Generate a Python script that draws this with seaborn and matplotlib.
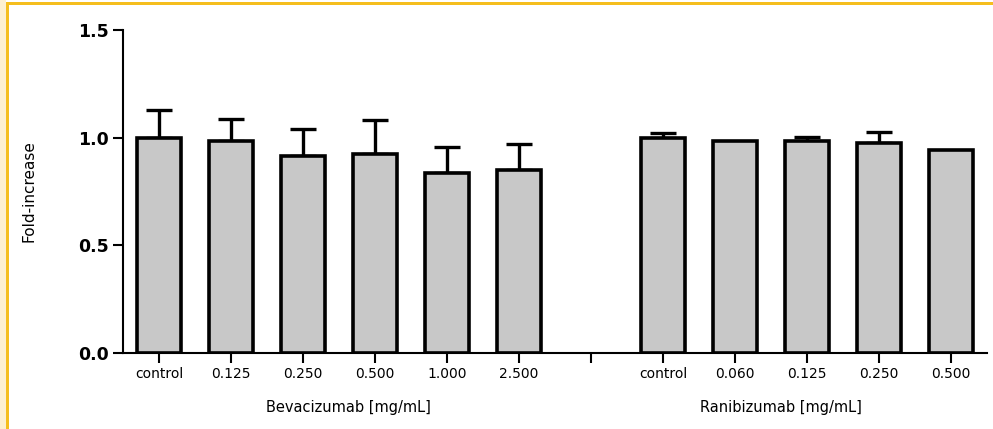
import numpy as np
import pandas as pd
import seaborn as sns
import matplotlib.pyplot as plt
from matplotlib.patches import Rectangle

# Werte
bev_labels = ["control", "0.125", "0.250", "0.500", "1.000", "2.500"]
bev_means = [1.00, 0.985, 0.913, 0.925, 0.836, 0.848]
bev_sd = [0.127, 0.102, 0.127, 0.158, 0.121, 0.123]

ran_labels = ["control", "0.060", "0.125", "0.250", "0.500"]
ran_means = [1.00, 0.983, 0.983, 0.975, 0.941]
ran_sd = [0.021, 0.0, 0.020, 0.051, 0.0]

# Daten zusammenbauen (eindeutige Schluessel, Luecke zwischen den Gruppen)
keys_bev = ["B " + l for l in bev_labels]
keys_ran = ["R " + l for l in ran_labels]
order = keys_bev + ["gap"] + keys_ran
df = pd.DataFrame({
    "key": keys_bev + keys_ran,
    "mean": bev_means + ran_means,
    "sd": bev_sd + ran_sd,
})

sns.set_theme(style="ticks")
plt.rcParams["font.family"] = ["DejaVu Sans"]
plt.rcParams["text.color"] = "black"
plt.rcParams["axes.labelcolor"] = "black"
plt.rcParams["xtick.color"] = "black"
plt.rcParams["ytick.color"] = "black"

fig = plt.figure(figsize=(9.93, 4.29), dpi=100)
ax = fig.add_axes([0.1239, 0.177, 0.870, 0.753])

sns.barplot(data=df, x="key", y="mean", order=order, color="#c8c8c8",
            saturation=1, width=0.6, edgecolor="black", linewidth=2.6,
            errorbar=None, ax=ax, zorder=3)

# Fehlerbalken nur nach oben (wie GraphPad)
pos = [order.index(k) for k in df["key"]]
has_err = df["sd"] > 0
ax.errorbar(np.array(pos)[has_err], df["mean"][has_err],
            yerr=[np.zeros(has_err.sum()), df["sd"][has_err]],
            fmt="none", ecolor="black", elinewidth=2.4, capsize=9.5,
            capthick=2.4, zorder=2)

ax.set_xlim(-0.5, 11.5)
ax.set_ylim(0, 1.5)
ax.set_yticks([0, 0.5, 1.0, 1.5])
ax.set_yticklabels(["0.0", "0.5", "1.0", "1.5"], fontsize=12.5,
                   fontweight="bold")
ax.set_xticks(range(len(order)))
ax.set_xticklabels(bev_labels + [""] + ran_labels, fontsize=10)
ax.set_xlabel("")
ax.set_ylabel("Fold-increase", fontsize=11)
ax.yaxis.set_label_coords(-0.1, 0.5)

for s in ["top", "right"]:
    ax.spines[s].set_visible(False)
for s in ["left", "bottom"]:
    ax.spines[s].set_linewidth(1.5)
    ax.spines[s].set_color("black")
ax.tick_params(axis="both", length=7, width=1.5, color="black",
               direction="out", pad=3)

# Gruppenbeschriftungen
ax.text(2.63, -0.255, "Bevacizumab [mg/mL]", fontsize=10.5,
        ha="center", va="center", transform=ax.transData)
ax.text(8.64, -0.255, "Ranibizumab [mg/mL]", fontsize=10.5,
        ha="center", va="center", transform=ax.transData)

# goldener Rahmen oben/links
W, H = 993, 429
fig.patches.append(Rectangle((0, 0), 6 / W, 1, transform=fig.transFigure,
                             facecolor="#fdf0d0", edgecolor="none"))
fig.patches.append(Rectangle((6 / W, 0), 3 / W, 1 - 2 / H,
                             transform=fig.transFigure,
                             facecolor="#f5be1e", edgecolor="none"))
fig.patches.append(Rectangle((6 / W, 1 - 5 / H), 1, 3 / H,
                             transform=fig.transFigure,
                             facecolor="#f5be1e", edgecolor="none"))

fig.savefig("out.png", dpi=100)
